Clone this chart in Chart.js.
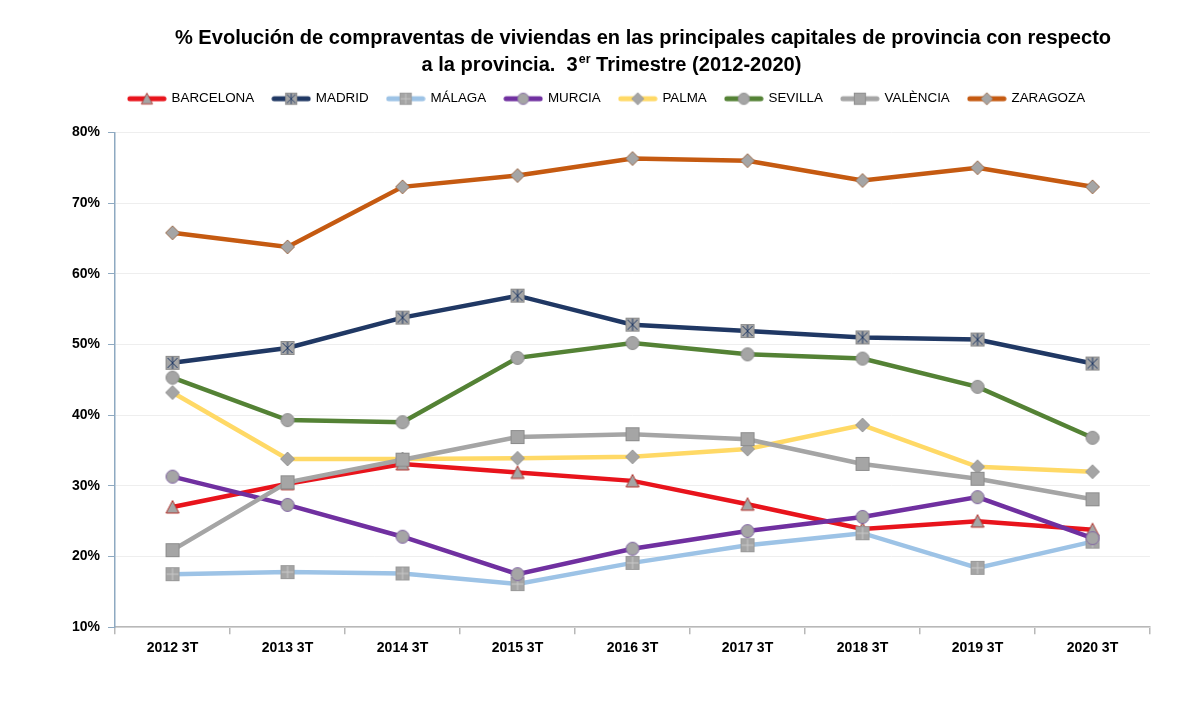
<!DOCTYPE html>
<html lang="es">
<head>
    <meta charset="UTF-8">
    <script src="https://cdn.jsdelivr.net/npm/chart.js"></script>
    <title>Compraventas de viviendas - capitales de provincia</title>
    <style>
        html, body { margin: 0; padding: 0; background: #fff; }
        #wrap { width: 1200px; height: 711px; }
    </style>
</head>
<body>
    <div id="wrap">
        <canvas id="lineChart" width="1200" height="711"></canvas>
    </div>
    <script>
        // datos (% de la provincia)
        const periodos = ['2012 3T', '2013 3T', '2014 3T', '2015 3T', '2016 3T', '2017 3T', '2018 3T', '2019 3T', '2020 3T'];
        const ciudades = ['BARCELONA', 'MADRID', 'MÁLAGA', 'MURCIA', 'PALMA', 'SEVILLA', 'VALÈNCIA', 'ZARAGOZA'];
        const barcelona = [27.0, 30.3, 33.1, 31.9, 30.7, 27.4, 23.9, 25.0, 23.8];
        const madrid    = [47.4, 49.5, 53.8, 56.9, 52.8, 51.9, 51.0, 50.7, 47.3];
        const malaga    = [17.5, 17.8, 17.6, 16.1, 19.1, 21.6, 23.3, 18.4, 22.1];
        const murcia    = [31.3, 27.3, 22.8, 17.5, 21.1, 23.6, 25.6, 28.4, 22.6];
        const palma     = [43.2, 33.8, 33.8, 33.9, 34.1, 35.2, 38.6, 32.7, 32.0];
        const sevilla   = [45.3, 39.3, 39.0, 48.1, 50.2, 48.6, 48.0, 44.0, 36.8];
        const valencia  = [20.9, 30.5, 33.7, 36.9, 37.3, 36.6, 33.1, 31.0, 28.1];
        const zaragoza  = [65.8, 63.8, 72.3, 73.9, 76.3, 76.0, 73.2, 75.0, 72.3];
        const ejeY = [10, 20, 30, 40, 50, 60, 70, 80];

        const FONT = '"Liberation Sans", Arial, sans-serif';
        const GRIS = '#a5a5a5';

        // marcador gris con estilo segun la serie
        function marcador(tipo, acento) {
            const c = document.createElement('canvas');
            c.width = 16; c.height = 16;
            const g = c.getContext('2d');
            g.fillStyle = GRIS;
            g.strokeStyle = acento;
            g.lineWidth = 1;
            if (tipo === 'tri') {
                g.beginPath(); g.moveTo(8, 1.5); g.lineTo(14.5, 14); g.lineTo(1.5, 14); g.closePath();
                g.fill(); g.stroke();
            } else if (tipo === 'circ') {
                g.beginPath(); g.arc(8, 8, 6.5, 0, Math.PI * 2);
                g.fill(); g.stroke();
            } else if (tipo === 'rombo') {
                g.beginPath(); g.moveTo(8, 1); g.lineTo(15, 8); g.lineTo(8, 15); g.lineTo(1, 8); g.closePath();
                g.fill(); g.stroke();
            } else {
                g.fillRect(1.5, 1.5, 13, 13);
                g.strokeRect(1.5, 1.5, 13, 13);
                if (tipo === 'estrella') {
                    g.strokeStyle = '#1f3864';
                    g.beginPath();
                    g.moveTo(3, 3); g.lineTo(13, 13); g.moveTo(13, 3); g.lineTo(3, 13);
                    g.moveTo(8, 2); g.lineTo(8, 14);
                    g.stroke();
                } else if (tipo === 'cruz') {
                    g.strokeStyle = '#c9c9c9';
                    g.beginPath();
                    g.moveTo(8, 2); g.lineTo(8, 14); g.moveTo(2, 8); g.lineTo(14, 8);
                    g.stroke();
                }
            }
            return c;
        }

        // icono de leyenda: linea + marcador
        function iconoLeyenda(color, m) {
            const c = document.createElement('canvas');
            c.width = 40; c.height = 16;
            const g = c.getContext('2d');
            g.strokeStyle = color;
            g.lineWidth = 5;
            g.lineCap = 'round';
            g.beginPath(); g.moveTo(3, 8); g.lineTo(37, 8); g.stroke();
            g.drawImage(m, 13, 1, 14, 14);
            return c;
        }

        const series = [
            { datos: barcelona, color: '#e8141c', m: marcador('tri', '#b0302a') },
            { datos: madrid,    color: '#203864', m: marcador('estrella', '#8c8c8c') },
            { datos: malaga,    color: '#9dc3e6', m: marcador('cruz', '#9a9a9a') },
            { datos: murcia,    color: '#7030a0', m: marcador('circ', '#8064a2') },
            { datos: palma,     color: '#ffd966', m: marcador('rombo', '#9a9a9a') },
            { datos: sevilla,   color: '#548235', m: marcador('circ', '#8c8c8c') },
            { datos: valencia,  color: '#a5a5a5', m: marcador('cuad', '#8c8c8c') },
            { datos: zaragoza,  color: '#c55a11', m: marcador('rombo', '#a07050') }
        ];

        const datasets = series.map((s, i) => ({
            label: ciudades[i],
            data: s.datos,
            borderColor: s.color,
            backgroundColor: s.color,
            borderWidth: 4.5,
            pointStyle: s.m,
            pointRadius: 7,
            pointHoverRadius: 7,
            tension: 0,
            order: series.length - i,
            icono: iconoLeyenda(s.color, s.m)
        }));

        const tituloL1 = '% Evolución de compraventas de viviendas en las principales capitales de provincia con respecto';
        const tituloL2a = 'a la provincia.  3';
        const tituloSup = 'er';
        const tituloL2b = ' Trimestre (2012-2020)';

        const titulo = {
            id: 'titulo',
            afterDraw(chart) {
                const ctx = chart.ctx;
                ctx.save();
                ctx.fillStyle = '#000';
                ctx.textBaseline = 'alphabetic';
                let size = 21;
                ctx.font = 'bold ' + size + 'px ' + FONT;
                size = size * 937 / ctx.measureText(tituloL1).width;
                ctx.font = 'bold ' + size + 'px ' + FONT;
                ctx.textAlign = 'center';
                ctx.fillText(tituloL1, 643, 44);
                // segunda linea con superindice
                const fSup = 'bold ' + (size * 0.62) + 'px ' + FONT;
                const wa = ctx.measureText(tituloL2a).width;
                const wb = ctx.measureText(tituloL2b).width;
                ctx.font = fSup;
                const ws = ctx.measureText(tituloSup).width;
                let x = 611 - (wa + ws + wb) / 2;
                ctx.textAlign = 'left';
                ctx.font = 'bold ' + size + 'px ' + FONT;
                ctx.fillText(tituloL2a, x, 71);
                x += wa;
                ctx.font = fSup;
                ctx.fillText(tituloSup, x + 1, 63);
                x += ws + 1;
                ctx.font = 'bold ' + size + 'px ' + FONT;
                ctx.fillText(tituloL2b, x, 71);
                ctx.restore();
            }
        };

        // mas espacio bajo la leyenda
        const espacioLeyenda = {
            id: 'espacioLeyenda',
            beforeInit(chart) {
                const fitOrig = chart.legend.fit;
                chart.legend.fit = function () {
                    fitOrig.bind(chart.legend)();
                    this.height += 17;
                };
            }
        };

        const config = {
            type: 'line',
            data: { labels: periodos, datasets: datasets },
            plugins: [titulo, espacioLeyenda],
            options: {
                responsive: false,
                animation: false,
                layout: { padding: { top: 73, left: 64, right: 50, bottom: 48 } },
                plugins: {
                    tooltip: { enabled: false },
                    legend: {
                        position: 'top',
                        labels: {
                            usePointStyle: true,
                            pointStyleWidth: 36,
                            padding: 19,
                            color: '#222',
                            font: { family: FONT, size: 13.4 },
                            generateLabels(chart) {
                                return chart.data.datasets.map((d, i) => ({
                                    text: d.label,
                                    pointStyle: d.icono,
                                    fillStyle: d.borderColor,
                                    strokeStyle: d.borderColor,
                                    lineWidth: 0,
                                    hidden: false,
                                    datasetIndex: i
                                }));
                            }
                        }
                    }
                },
                scales: {
                    x: {
                        offset: true,
                        border: { color: '#b8b8b8', width: 1.5 },
                        grid: { offset: true, drawOnChartArea: false, tickLength: 7, tickColor: '#b8b8b8', lineWidth: 1.5 },
                        ticks: { color: '#000', padding: 6, font: { family: FONT, size: 14, weight: 'bold' } }
                    },
                    y: {
                        min: ejeY[0],
                        max: ejeY[ejeY.length - 1],
                        afterBuildTicks(scale) { scale.ticks = ejeY.map(v => ({ value: v })); },
                        border: { color: '#8ea9c1', width: 1.5 },
                        grid: { color: '#eeeeee', tickColor: '#8ea9c1', tickLength: 7 },
                        ticks: {
                            color: '#000',
                            padding: 8,
                            font: { family: FONT, size: 14, weight: 'bold' },
                            callback: v => v + '%'
                        }
                    }
                }
            }
        };

        const myChart = new Chart(document.getElementById('lineChart'), config);
    </script>
</body>
</html>
